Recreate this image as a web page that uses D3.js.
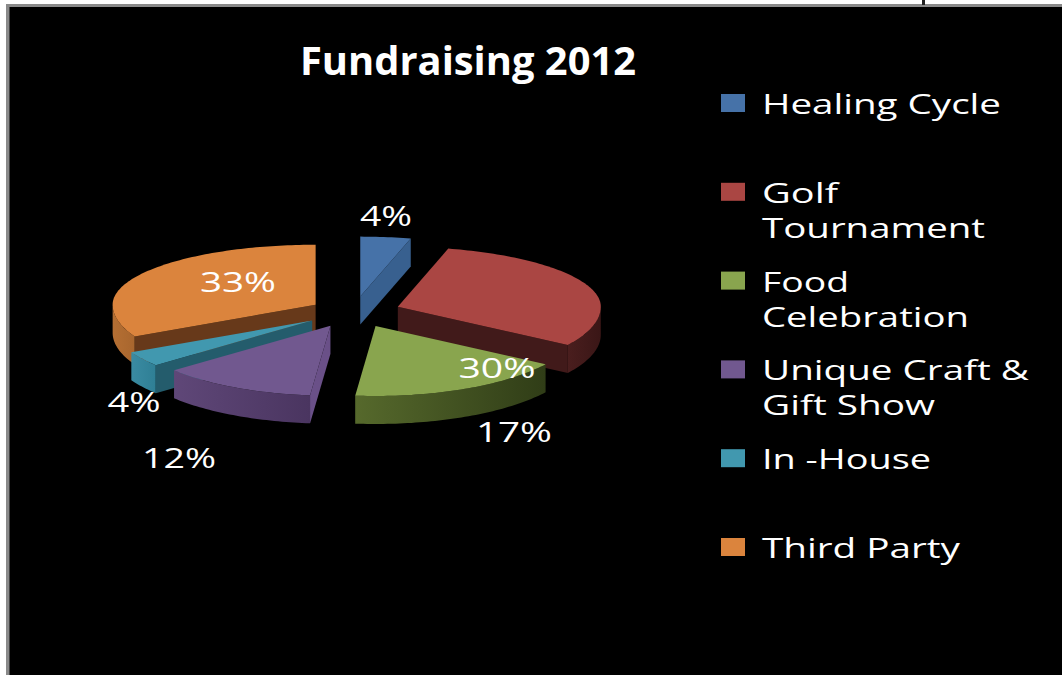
<!DOCTYPE html>
<meta charset="utf-8">
<style>
html, body { margin: 0; padding: 0; background: #fff; overflow: hidden; }
text { fill: #fff; font-family: "Open Sans", sans-serif; }
</style>
<body>
<div id="chart"></div>
<script src="https://d3js.org/d3.v7.min.js"></script>
<script>
// values (labels round these to whole percents)
var categories = ["Healing Cycle", "Golf Tournament", "Food Celebration", "Unique Craft & Gift Show", "In -House", "Third Party"];
var shares = [4, 30.2, 17.4, 12.4, 3.5, 32.5];
var titleText = "Fundraising 2012";

var legendLines = [["Healing Cycle"], ["Golf", "Tournament"], ["Food", "Celebration"], ["Unique Craft &", "Gift Show"], ["In -House"], ["Third Party"]];
var legendWidths = [[239], [76, 223], [87, 207], [267, 173], [169], [198]];

var topColors = ["#4672a8", "#aa4643", "#89a54e", "#71588f", "#4198af", "#db843d"];
var cutColors = ["#38608f", "#411a1a", "#3b4a1c", "#6a5088", "#245c6c", "#67391a"];
var wallLeft = ["#38608f", "#4a1e1e", "#56692c", "#5f4778", "#3a8ba2", "#b56f33"];
var wallRight = ["#38608f", "#3a1616", "#303d17", "#4a3560", "#2f7f95", "#a8662e"];

// how far each slice is pulled out of the pie
var explodes = [50, 47, 50, 50, 50, 45];

// where each percent label sits (centre x, baseline y, width), by slice
var labelSpots = [[386, 226, 52], [497, 378, 77], [514, 442, 76], [179, 468, 74], [134, 412, 53], [238, 292, 76]];

var width = 1062, height = 675;
var cx = 354, cy = 312, rx = 203, ryBack = 60, ryFront = 70, depth = 28;

var svg = d3.select("#chart").append("svg").attr("width", width).attr("height", height);
var defs = svg.append("defs");

// paper and panel
svg.append("rect").attr("x", 6).attr("y", 4).attr("width", width).attr("height", height).attr("fill", "#8a8a8a");
svg.append("rect").attr("x", 9.5).attr("y", 7).attr("width", width).attr("height", height).attr("fill", "#000");
svg.append("rect").attr("x", 922).attr("y", 0).attr("width", 3).attr("height", 5).attr("fill", "#222");

// title
svg.append("text").attr("x", 300).attr("y", 75)
  .attr("textLength", 336).attr("lengthAdjust", "spacingAndGlyphs")
  .style("font-size", "40px").style("font-weight", 700)
  .text(titleText);

// pie angles
var pie = d3.pie().sort(null).value(function(d) { return d; });
var arcs = pie(shares);

// squash the circle into the tilted ellipse, the front half is a bit closer to us
function project(a, r, c) {
  var ca = Math.cos(a);
  return [c[0] + Math.sin(a) * rx * r, c[1] - ca * (ca > 0 ? ryBack : ryFront) * r];
}

function centerOf(d) {
  var m = (d.startAngle + d.endAngle) / 2;
  var e = explodes[d.index];
  return [cx + Math.sin(m) * e, cy - Math.cos(m) * e * 0.31];
}

function rimPoints(a0, a1, c) {
  var n = Math.max(2, Math.ceil((a1 - a0) / 0.02));
  var s = d3.scaleLinear().domain([0, n]).range([a0, a1]);
  return d3.range(n + 1).map(function(i) { return project(s(i), 1, c); });
}

var line = d3.line();
function closed(pts) { return line(pts) + "Z"; }
function dropped(pts) { return pts.map(function(p) { return [p[0], p[1] + depth]; }).reverse(); }

// back slices first so the front ones paint over them
var order = [0, 1, 5, 4, 3, 2];
var slices = svg.append("g");

order.forEach(function(i) {
  var d = arcs[i], c = centerOf(d), g = slices.append("g");
  var a0 = d.startAngle, a1 = d.endAngle;

  // outer wall, only where the rim faces us
  var w0 = Math.max(a0, Math.PI / 2), w1 = Math.min(a1, Math.PI * 3 / 2);
  if (w1 > w0) {
    var top = rimPoints(w0, w1, c);
    var id = "wall" + i;
    var grad = defs.append("linearGradient").attr("id", id);
    grad.append("stop").attr("offset", "0%").attr("stop-color", wallLeft[i]);
    grad.append("stop").attr("offset", "100%").attr("stop-color", wallRight[i]);
    g.append("path").attr("d", closed(top.concat(dropped(top)))).attr("fill", "url(#" + id + ")");
  }

  // cut faces
  [a0, a1].forEach(function(a, k) {
    var facing = k === 0 ? Math.sin(a) < -0.001 : Math.sin(a) > 0.001;
    if (!facing) return;
    var edge = [c, project(a, 1, c)];
    g.append("path").attr("d", closed(edge.concat(dropped(edge)))).attr("fill", cutColors[i]);
  });

  // top face
  g.append("path").attr("d", closed([c].concat(rimPoints(a0, a1, c)))).attr("fill", topColors[i]);
});

// percent labels
svg.append("g").selectAll("text").data(shares).join("text")
  .attr("x", function(d, i) { return labelSpots[i][0] - labelSpots[i][2] / 2; })
  .attr("y", function(d, i) { return labelSpots[i][1]; })
  .attr("textLength", function(d, i) { return labelSpots[i][2]; })
  .attr("lengthAdjust", "spacingAndGlyphs")
  .style("font-size", "28px")
  .text(function(d) { return Math.round(d) + "%"; });

// legend
var legendY = d3.scalePoint().domain(categories).range([103, 547]);
var legend = svg.append("g").selectAll("g").data(categories).join("g")
  .attr("transform", function(d) { return "translate(0," + legendY(d) + ")"; });

legend.append("rect")
  .attr("x", 721).attr("y", -9).attr("width", 24).attr("height", 18)
  .attr("fill", function(d, i) { return topColors[i]; });

legend.each(function(d, i) {
  var row = d3.select(this);
  legendLines[i].forEach(function(t, k) {
    row.append("text")
      .attr("x", 762).attr("y", 11 + k * 35)
      .attr("textLength", legendWidths[i][k]).attr("lengthAdjust", "spacingAndGlyphs")
      .style("font-size", "27px")
      .text(t);
  });
});
</script>
</body>
